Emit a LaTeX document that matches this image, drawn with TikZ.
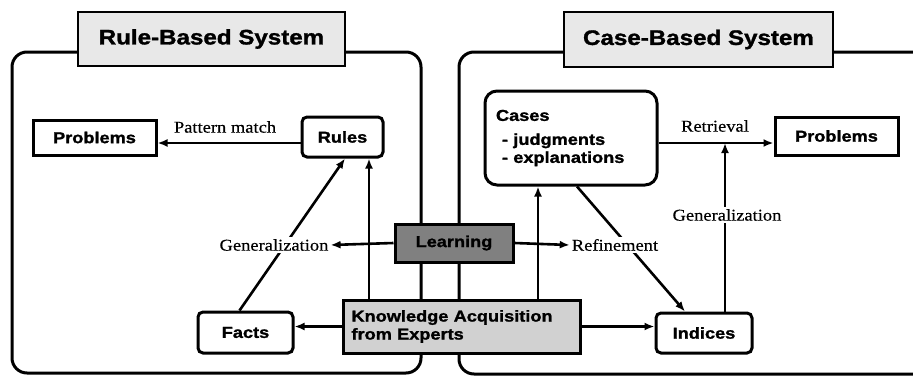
\documentclass[tikz,border=0pt]{standalone}
\usepackage{fontspec}
\newfontfamily\hv{Liberation Sans}[FakeStretch=1.15,FakeBold=1.4]
\newfontfamily\tm{Liberation Serif}[FakeStretch=1.12,FakeBold=0.4]
\usetikzlibrary{arrows.meta,calc}
\pgfdeclarelayer{bg}
\pgfsetlayers{bg,main}
\tikzset{
  panel/.style={line width=3pt, rounded corners=15pt},
  titlebox/.style={draw, line width=2.4pt, fill=black!9, inner sep=0pt,
     font=\hv\bfseries\fontsize{21}{24}\selectfont},
  sqbox/.style={draw, line width=3pt, fill=white, inner sep=0pt,
     font=\hv\bfseries\fontsize{15.8}{18}\selectfont},
  rbox/.style={sqbox, rounded corners=5pt},
  lbl/.style={fill=white, inner sep=2pt, font=\tm\fontsize{16.5}{18}\selectfont},
  conn/.style={line width=2.6pt, -{Latex[length=10pt,width=8pt]}},
}
\begin{document}
\begin{tikzpicture}[x=1pt,y=-1pt]
\useasboundingbox (0,0) rectangle (913,378);
% panels
\begin{pgfonlayer}{bg}
\draw[panel] (12,52) rectangle (421,373);
\draw[panel] (920,52) -- (459,52) -- (459,374) -- (920,374);
\end{pgfonlayer}
% titles
\node[titlebox, minimum width=267pt, minimum height=54pt] (t1) at (211.5,39) {Rule-Based System};
\node[titlebox, minimum width=269pt, minimum height=55pt] (t2) at (698.5,39.5) {Case-Based System};
% boxes
\node[sqbox, minimum width=123pt, minimum height=35pt] (p1) at (94.5,137.5) {Problems};
\node[rbox, minimum width=81pt, minimum height=40pt] (rules) at (342.5,137) {Rules};
\node[rbox, minimum width=95pt, minimum height=41pt] (facts) at (245.5,332.5) {Facts};
\node[sqbox, minimum width=123pt, minimum height=38pt] (p2) at (836.5,136) {Problems};
\node[rbox, minimum width=96pt, minimum height=40pt] (ind) at (704,333) {Indices};
\node[rbox, rounded corners=12pt, minimum width=172pt, minimum height=94pt,
      text width=150pt, align=left] (cases) at (571,138)
      {Cases\\[6pt]\hspace*{6pt}- judgments\\\hspace*{6pt}- explanations};
\node[sqbox, fill=black!50, minimum width=118pt, minimum height=38pt] (learn) at (454,243) {Learning};
\node[sqbox, fill=black!18, minimum width=237pt, minimum height=53pt,
      text width=220pt, align=left] (kn) at (461.5,326.5)
      {Knowledge Acquisition\\from Experts};
% coordinates
\coordinate (y143) at (0,143);
\coordinate (v1) at (369,0);
\coordinate (v2) at (538,0);
\coordinate (v3) at (725,0);
\coordinate (rt) at (725,143);
% labels
\node[lbl] (pm) at (225,127) {Pattern match};
\node[lbl] (gen1) at (274,245) {Generalization};
\node[lbl] (ref) at (615,245) {Refinement};
\node[lbl] (ret) at (715,126) {Retrieval};
\node[lbl] (gen2) at (727,215) {Generalization};
% connectors
\begin{pgfonlayer}{bg}
\draw[conn] ([xshift=-6pt]facts.north) -- ([xshift=2.5pt]rules.south);
\draw[conn] (kn.north -| v1) -- (rules.south -| v1);
\draw[conn] (kn.north -| v2) -- (cases.south -| v2);
\draw[conn] ([xshift=6pt]cases.south) -- ([xshift=-19pt]ind.north);
\draw[conn] (rules.west |- y143) -- (p1.east |- y143);
\draw[conn] (cases.east |- y143) -- (p2.west |- y143);
\draw[conn] (ind.north -| v3) -- (rt);
\draw[conn, line width=2.2pt] (kn.west) -- (facts.east |- kn.west);
\draw[conn, line width=2.2pt] (kn.east) -- (ind.west |- kn.east);
\draw[conn] (learn.west) -- (gen1.east);
\draw[conn] (learn.east) -- (ref.west);
\end{pgfonlayer}
\end{tikzpicture}
\end{document}
